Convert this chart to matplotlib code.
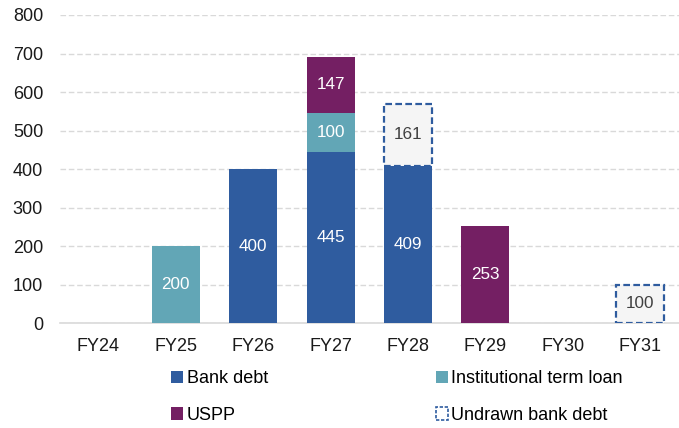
import matplotlib.pyplot as plt
from matplotlib.patches import Patch
import numpy as np

plt.rcParams['font.family'] = ['Liberation Sans', 'DejaVu Sans']

years = ["FY24", "FY25", "FY26", "FY27", "FY28", "FY29", "FY30", "FY31"]
bank_debt = [0, 0, 400, 445, 409, 0, 0, 0]
inst_loan = [0, 200, 0, 100, 0, 0, 0, 0]
uspp = [0, 0, 0, 147, 0, 253, 0, 0]
undrawn = [0, 0, 0, 0, 161, 0, 0, 100]

c_bank = "#2F5C9F"
c_inst = "#62A6B6"
c_uspp = "#741F63"
c_undr = "#F5F5F5"

fig = plt.figure(figsize=(6.79, 4.28), dpi=100)
ax = fig.add_axes([0.088, 0.245, 0.912, 0.72])

x = np.arange(len(years))
w = 0.62
bank = np.array(bank_debt)
inst = np.array(inst_loan)
us = np.array(uspp)
un = np.array(undrawn)

b1 = ax.bar(x, bank, w, color=c_bank, zorder=3)
b2 = ax.bar(x, inst, w, bottom=bank, color=c_inst, zorder=3)
b3 = ax.bar(x, us, w, bottom=bank + inst, color=c_uspp, zorder=3)
m = un > 0
b4 = ax.bar(x[m], un[m], w, bottom=(bank + inst + us)[m], color=c_undr, edgecolor=c_bank,
            linestyle=(0, (3, 1.5)), linewidth=1.6, zorder=3)

# labels in segments
for bars, vals, col in [(b1, bank, "white"), (b2, inst, "white"), (b3, us, "white"), (b4, un[m], "#404040")]:
    for rect, v in zip(bars, vals):
        if v > 0:
            ax.text(rect.get_x() + rect.get_width() / 2, rect.get_y() + rect.get_height() / 2,
                    str(v), ha="center", va="center", color=col, fontsize=12.3, zorder=4)

ax.set_xlim(-0.5, 7.5)
ax.set_ylim(0, 800)
ax.set_yticks(range(0, 801, 100))
ax.set_xticks(x)
ax.set_xticklabels(years)
ax.tick_params(axis="both", length=0, labelsize=13, colors="#1a1a1a")
ax.tick_params(axis="x", pad=11)
ax.tick_params(axis="y", pad=12)
ax.yaxis.grid(True, color="#D9D9D9", linestyle=(0, (4, 2)), linewidth=1, zorder=0)
for s in ["top", "right", "left"]:
    ax.spines[s].set_visible(False)
ax.spines["bottom"].set_color("#D9D9D9")
ax.spines["bottom"].set_linewidth(1.2)

handles = [
    Patch(facecolor=c_bank, edgecolor="none", label="Bank debt"),
    Patch(facecolor=c_uspp, edgecolor="none", label="USPP"),
    Patch(facecolor=c_inst, edgecolor="none", label="Institutional term loan"),
    Patch(facecolor="white", edgecolor=c_bank, linestyle=(0, (2, 1)), linewidth=1.2,
          label="Undrawn bank debt"),
]
fig.legend(handles=handles, ncol=2, loc="lower left", bbox_to_anchor=(0.231, -0.024),
           frameon=False, fontsize=13, handlelength=0.65, handleheight=0.65,
           handletextpad=0.2, columnspacing=9.3, labelspacing=1.1, borderpad=0.3)

plt.savefig("out.png", dpi=100)
